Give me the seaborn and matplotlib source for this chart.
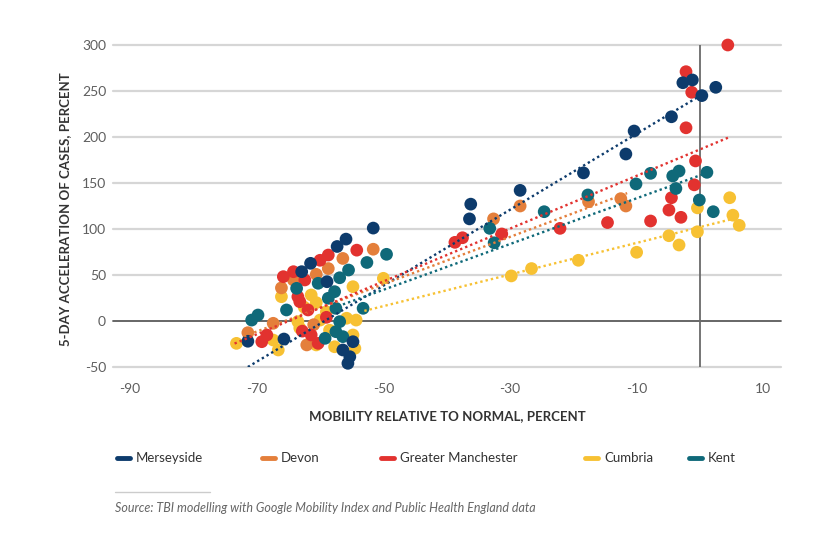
import matplotlib
matplotlib.use("Agg")
import matplotlib.pyplot as plt
import numpy as np
import pandas as pd
import seaborn as sns
from matplotlib.lines import Line2D

# ---- data -----------------------------------------------------------------
regions = ["Merseyside", "Devon", "Greater Manchester", "Cumbria", "Kent"]
region_colors = ["#0d3b6c", "#e47f3b", "#e2322f", "#f7c133", "#0f6979"]

merseyside_x = [-71.4, -65.7, -62.9, -61.5, -58.9, -57.3, -55.9, -51.6, -54.8, -56.4,
                -55.3, -55.6, -36.4, -36.2, -28.4, -18.4, -11.7, -10.4, -4.5, -2.7,
                -1.2, 0.3, 2.5]
merseyside_y = [-22.0, -19.6, 53.6, 62.7, 42.7, 81.0, 89.0, 101.0, -22.5, -31.5,
                -38.8, -46.0, 111.0, 127.0, 142.0, 161.0, 181.5, 206.5, 222.0, 259.0,
                262.0, 245.0, 254.0]

devon_x = [-71.4, -67.4, -66.1, -64.2, -62.1, -61.0, -60.6, -58.7, -56.4, -51.6,
           -32.6, -28.4, -17.6, -12.5, -11.7]
devon_y = [-12.7, -2.5, 36.0, 44.6, -26.0, -4.0, 50.7, 57.0, 68.0, 78.0,
           111.0, 125.0, 129.7, 133.0, 125.0]

manchester_x = [-69.2, -68.4, -65.8, -64.2, -63.5, -63.2, -62.8, -62.4, -61.9, -61.4,
                -60.3, -60.0, -59.0, -58.7, -54.2, -38.7, -37.5, -31.3, -22.1, -14.6,
                -7.8, -4.9, -4.5, -3.0, -2.2, -2.2, -1.3, -0.9, -0.7, 4.4]
manchester_y = [-22.5, -15.2, 48.2, 53.6, 26.4, 21.0, -11.0, 44.6, 12.0, -15.2,
                -24.3, 66.0, 4.0, 71.7, 77.0, 85.5, 90.5, 94.6, 100.7, 107.0,
                108.7, 120.6, 134.0, 112.7, 210.0, 271.0, 248.6, 148.0, 174.0, 300.0]

cumbria_x = [-73.2, -67.4, -66.6, -66.1, -63.5, -63.2, -62.5, -61.4, -60.6, -60.6,
             -60.0, -59.0, -58.5, -57.7, -55.8, -54.8, -54.5, -54.8, -50.0, -54.3,
             -29.8, -26.6, -19.2, -10.0, -4.9, -3.3, -0.4, -0.4, 4.7, 5.2, 6.2]
cumbria_y = [-24.3, -20.7, -31.5, 26.4, -0.7, -7.6, 15.0, 28.3, 20.0, -26.0,
             1.0, 10.0, -10.0, -28.0, 3.0, -15.2, -29.7, 37.3, 46.4, 1.0,
             49.0, 57.0, 66.0, 74.7, 92.7, 82.6, 97.0, 123.0, 134.0, 115.0, 104.0]

kent_x = [-70.8, -69.8, -65.3, -63.7, -60.3, -58.7, -57.7, -56.9, -55.5, -52.6,
          -49.5, -53.2, -56.9, -57.5, -59.2, -56.4, -57.5, -33.2, -32.5, -24.6,
          -17.7, -10.1, -7.8, -4.3, -3.8, -3.3, -0.1, 1.1, 2.1]
kent_y = [1.0, 6.5, 12.0, 35.5, 41.0, 24.7, 31.9, 47.0, 55.4, 63.6,
          72.5, 13.8, -0.7, -11.6, -18.8, -17.0, 13.8, 100.7, 85.0, 118.8,
          137.0, 149.0, 160.5, 157.6, 144.0, 163.0, 131.5, 161.6, 118.8]

# linear trend for each region (start and end of the fitted segment)
trend_x_start = [-71.4, -72.0, -73.5, -53.0, -58.0]
trend_y_start = [-50.0, -16.6, -24.5, 11.0, 14.0]
trend_x_end = [0.3, -11.5, 4.7, 5.2, 0.3]
trend_y_end = [246.0, 139.0, 200.0, 111.0, 159.0]

x_ticks = [-90, -70, -50, -30, -10, 10]
y_ticks = [-50, 0, 50, 100, 150, 200, 250, 300]

series = {
    "Merseyside": (merseyside_x, merseyside_y),
    "Devon": (devon_x, devon_y),
    "Greater Manchester": (manchester_x, manchester_y),
    "Cumbria": (cumbria_x, cumbria_y),
    "Kent": (kent_x, kent_y),
}
draw_order = ["Cumbria", "Devon", "Greater Manchester", "Kent", "Merseyside"]
df = pd.concat(
    [pd.DataFrame({"mobility": series[r][0], "accel": series[r][1], "region": r})
     for r in draw_order],
    ignore_index=True,
)
palette = dict(zip(regions, region_colors))

# ---- figure ---------------------------------------------------------------
sns.set_theme(style="white")
plt.rcParams["font.family"] = ["Lato", "DejaVu Sans"]

W, H = 815, 539
fig = plt.figure(figsize=(W / 100, H / 100), dpi=100)
fig.patch.set_facecolor("white")
ax = fig.add_axes([113 / W, (H - 367) / H, 668 / W, 322 / H])

ax.set_xlim(-92.7, 12.8)
ax.set_ylim(-50, 300)

# horizontal grid
for yv in y_ticks:
    if yv == 0:
        ax.axhline(yv, color="#5a5a5a", lw=1.3, zorder=1, clip_on=False)
    else:
        ax.axhline(yv, color="#d6d6d6", lw=1.6, zorder=1, clip_on=False)

# vertical reference at normal mobility
ax.vlines(0, -50, 300, color="#6a6a6a", lw=1.3, zorder=1.5)

sns.scatterplot(data=df, x="mobility", y="accel", hue="region", palette=palette,
                s=84, linewidth=0, alpha=1, legend=False, ax=ax, zorder=2)
for coll in ax.collections:
    coll.set_clip_on(False)

for i, r in enumerate(regions):
    ax.plot([trend_x_start[i], trend_x_end[i]], [trend_y_start[i], trend_y_end[i]],
            linestyle=(0, (1, 1.3)), lw=1.7, color=region_colors[i], zorder=3)

for side in ["top", "right", "left", "bottom"]:
    ax.spines[side].set_visible(False)

ax.set_xticks(x_ticks)
ax.set_xticklabels([str(v) for v in x_ticks])
ax.set_yticks(y_ticks)
ax.set_yticklabels([str(v) for v in y_ticks])
ax.tick_params(axis="x", direction="inout", length=7, width=1, color="#9a9a9a",
               pad=8, labelsize=10, labelcolor="#5e5e5e")
ax.tick_params(axis="y", length=0, pad=5, labelsize=10, labelcolor="#5e5e5e")

ax.set_xlabel("MOBILITY RELATIVE TO NORMAL, PERCENT", fontsize=9.5,
              fontweight="bold", color="#333333")
ax.set_ylabel("5-DAY ACCELERATION OF CASES, PERCENT", fontsize=9.5,
              fontweight="bold", color="#333333")
ax.xaxis.set_label_coords(0.5, (367 - 416) / 322)
ax.xaxis.label.set_va("center")
ax.yaxis.set_label_coords((65 - 113) / 668, 0.49)
ax.yaxis.label.set_va("center")

# legend row
legend_px = [117, 262, 381, 585, 689]
ly = 1 - 458 / H
for px, r, c in zip(legend_px, regions, region_colors):
    fig.add_artist(Line2D([px / W, (px + 13) / W], [ly, ly], transform=fig.transFigure,
                          color=c, lw=3.5, solid_capstyle="round"))
    fig.text((px + 19) / W, ly, r, fontsize=9.5, color="#333333", va="center", ha="left")

# source note
fig.add_artist(Line2D([115 / W, 210 / W], [1 - 492 / H, 1 - 492 / H],
                      transform=fig.transFigure, color="#cccccc", lw=1))
fig.text(115 / W, 1 - 508 / H,
         "Source: TBI modelling with Google Mobility Index and Public Health England data",
         fontsize=9, style="italic", color="#666666", va="center", ha="left")

fig.savefig("out.png", dpi=100, facecolor="white")
